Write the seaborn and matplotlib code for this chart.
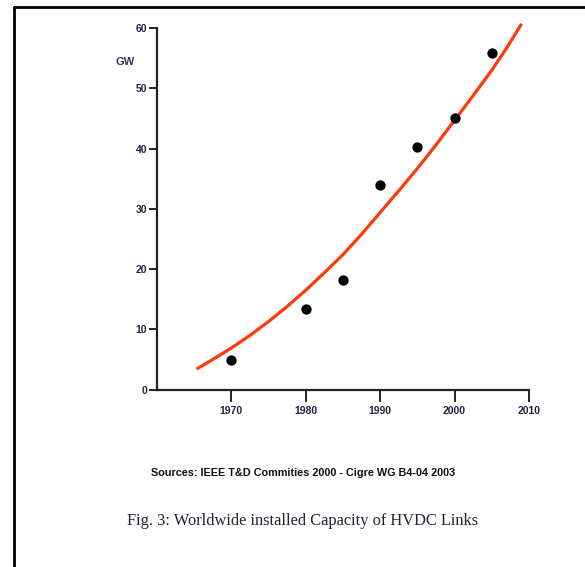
import matplotlib
matplotlib.use("Agg")
import matplotlib.pyplot as plt
from matplotlib.lines import Line2D
import seaborn as sns
import pandas as pd

# Data points (installed HVDC capacity, GW)
point_years = [1970, 1980, 1985, 1990, 1995, 2000, 2005]
point_gw = [4.9, 13.3, 18.2, 34.0, 40.2, 45.0, 55.8]

# Trend curve
curve_years = [1965.3, 1967.5, 1970, 1972.5, 1975, 1977.5, 1980, 1982.5, 1985,
               1987.5, 1990, 1992.5, 1995, 1997.5, 2000, 2002.5, 2005, 2007, 2009]
curve_gw = [3.4, 5.0, 6.9, 9.0, 11.3, 13.8, 16.5, 19.4, 22.4,
            25.8, 29.4, 33.0, 36.7, 40.6, 44.7, 48.8, 53.0, 56.7, 60.7]

x_ticks = [1970, 1980, 1990, 2000, 2010]
y_ticks = [0, 10, 20, 30, 40, 50, 60]

source_text = "Sources: IEEE T&D Commities 2000 - Cigre WG B4-04 2003"
caption_text = "Fig. 3: Worldwide installed Capacity of HVDC Links"
y_unit = "GW"

sns.set_theme(style="white")
plt.rcParams['font.family'] = ['Liberation Sans', 'DejaVu Sans']

pts = pd.DataFrame({"year": point_years, "gw": point_gw})
crv = pd.DataFrame({"year": curve_years, "gw": curve_gw})

fig = plt.figure(figsize=(5.85, 5.67), dpi=100)
ax = fig.add_axes([0.2684, 0.3129, 0.6359, 0.6377])

sns.lineplot(data=crv, x="year", y="gw", ax=ax, color="#ff3a0a", linewidth=2.3,
             sort=True, estimator=None, clip_on=False,
             solid_joinstyle="round", solid_capstyle="butt")
sns.scatterplot(data=pts, x="year", y="gw", ax=ax, color="black", s=55,
                edgecolor="black", linewidth=0, zorder=5)

ax.set_xlim(1960, 2010)
ax.set_ylim(0, 60)
ax.set_xticks(x_ticks)
ax.set_yticks(y_ticks)
ax.set_xticklabels([str(t) for t in x_ticks])
ax.set_yticklabels([str(t) for t in y_ticks])
ax.set_xlabel("")
ax.set_ylabel("")

for s in ["top", "right"]:
    ax.spines[s].set_visible(False)
for s in ["left", "bottom"]:
    ax.spines[s].set_color("#222222")
    ax.spines[s].set_linewidth(1.6)

ax.tick_params(axis="x", direction="out", length=8.5, width=1.4, color="#222222",
               labelsize=7.5, pad=3, bottom=True)
ax.tick_params(axis="y", direction="out", length=5.5, width=1.4, color="#222222",
               labelsize=7.5, pad=1.5, left=True)
for lab in ax.get_xticklabels() + ax.get_yticklabels():
    lab.set_fontweight("bold")
    lab.set_color("#222244")

fig.text(125 / 585, 1 - 62 / 567, y_unit, ha="center", va="center",
         fontsize=8, fontweight="bold", color="#333355")

fig.text(303 / 585, 1 - 473 / 567, source_text, ha="center", va="center",
         fontsize=7.8, fontweight="bold", color="#111111")
fig.text(303 / 585, 1 - 521 / 567, caption_text, ha="center", va="center",
         fontsize=11.8, color="#222233", family=["Liberation Serif", "DejaVu Serif"])

# page frame (left and top edges)
fig.add_artist(Line2D([14 / 585, 14 / 585], [0, 1 - 6.5 / 567],
                      transform=fig.transFigure, color="black", linewidth=2))
fig.add_artist(Line2D([14 / 585, 1], [1 - 6.5 / 567, 1 - 6.5 / 567],
                      transform=fig.transFigure, color="black", linewidth=2))

fig.savefig("out.png", dpi=100)
